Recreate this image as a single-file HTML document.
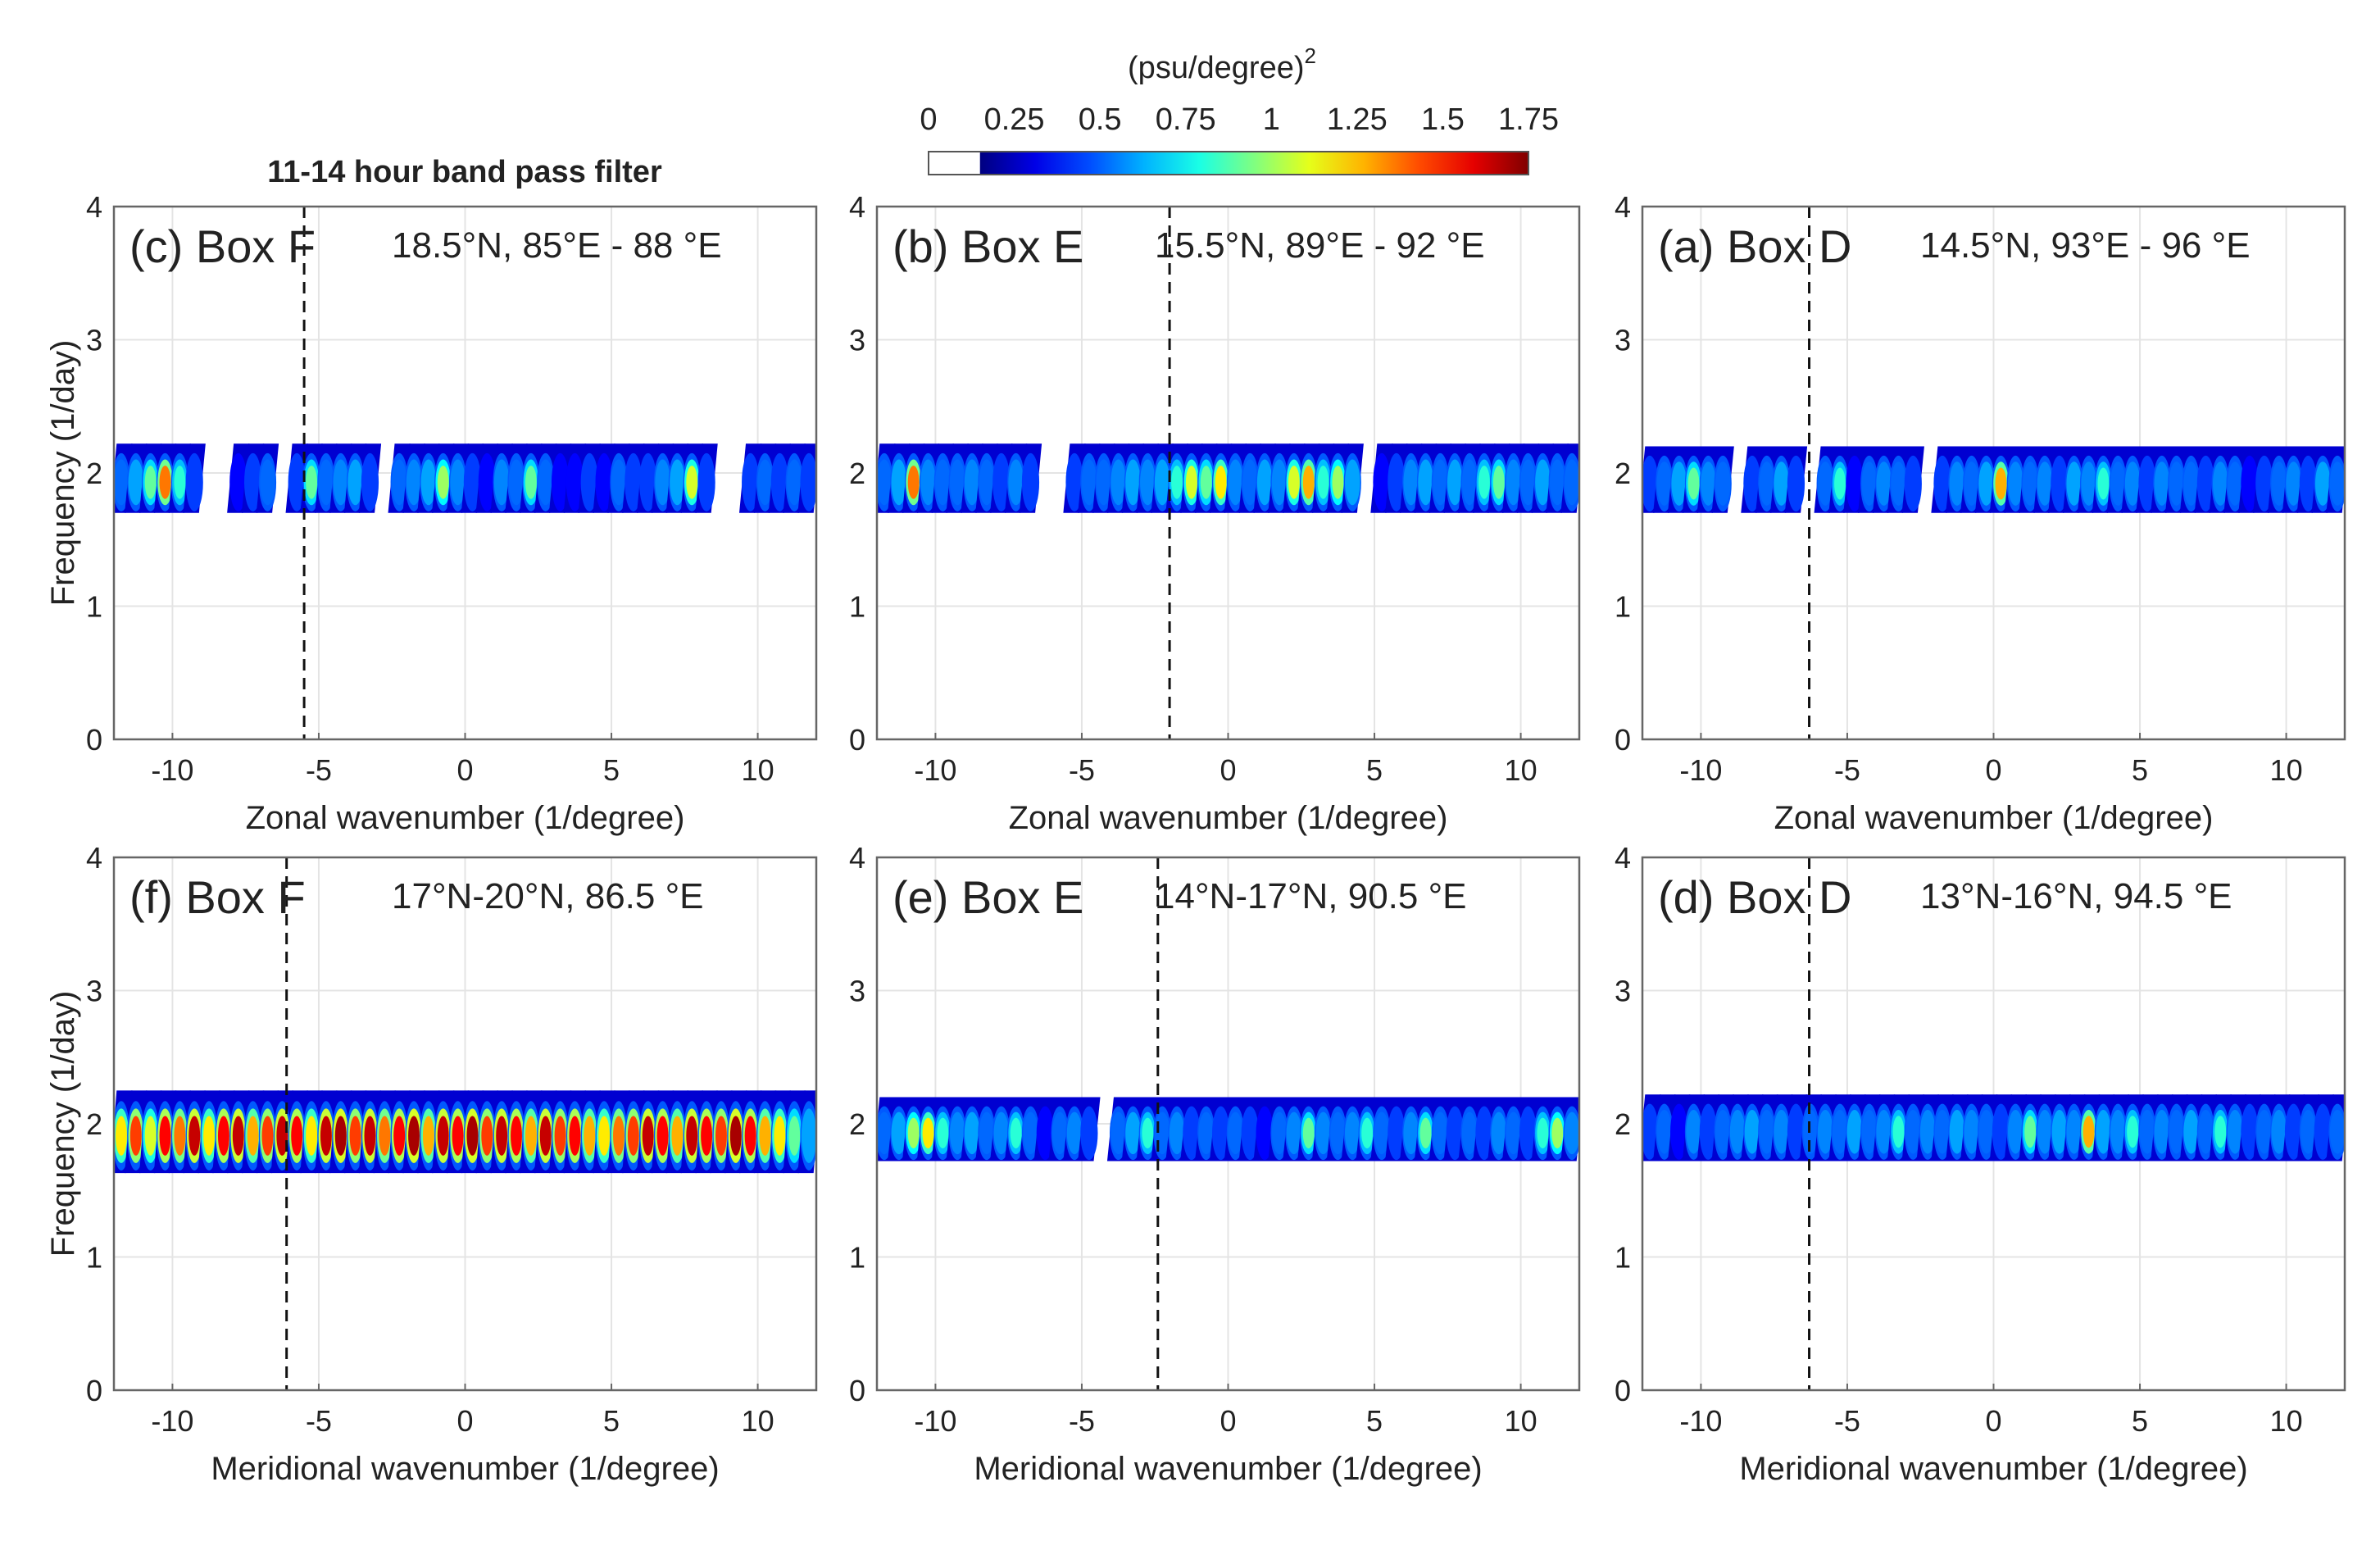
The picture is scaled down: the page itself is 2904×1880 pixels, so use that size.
<!DOCTYPE html>
<html><head><meta charset="utf-8"><style>
body{margin:0;background:#fff;}
svg text{font-family:"Liberation Sans",sans-serif;fill:#222;}
</style></head><body>
<svg id="fig" width="2904" height="1875" viewBox="0 0 2904 1875" xmlns="http://www.w3.org/2000/svg">
<text x="1491" y="95" font-size="38" text-anchor="middle">(psu/degree)<tspan dy="-18" font-size="26">2</tspan></text>
<text x="567" y="222" font-size="38" font-weight="bold" text-anchor="middle">11-14 hour band pass filter</text>
<g id="cbar"></g>
<g id="panels"></g>
</svg>
<script>
const bins = [];
for (let i = 0; i < 48; i++) bins.push(-12 + i * 0.5);
const cbTicks = ["0","0.25","0.5","0.75","1","1.25","1.5","1.75"];
const xTicks = [-10,-5,0,5,10];
const yTicks = [0,1,2,3,4];
const panelLabels = ["(c) Box F","(b) Box E","(a) Box D","(f) Box F","(e) Box E","(d) Box D"];
const panelCoords = ["18.5°N,  85°E - 88 °E","15.5°N,  89°E - 92 °E","14.5°N,  93°E - 96 °E","17°N-20°N,  86.5 °E","14°N-17°N,  90.5 °E","13°N-16°N,  94.5 °E"];
const dashedX = [-5.5,-2,-6.3,-6.1,-2.4,-6.3];
const valsC = [0.5,0.7,0.9,1.4,0.8,0.4,0,0,0.3,0.4,0.5,0,0.4,0.9,0.5,0.6,0.7,0.4,0,0.5,0.6,0.7,1.0,0.6,0.4,0.3,0.6,0.5,0.9,0.5,0.3,0.3,0.4,0.3,0.5,0.4,0.4,0.6,0.7,1.1,0.4,0,0,0.4,0.5,0.4,0.5,0.4];
const valsB = [0.5,0.7,1.4,0.6,0.5,0.5,0.6,0.5,0.4,0.6,0.4,0,0,0.4,0.5,0.5,0.6,0.7,0.6,0.7,0.8,1.1,0.9,1.2,0.6,0.5,0.7,0.6,1.1,1.3,0.8,1.0,0.7,0,0.3,0.4,0.6,0.7,0.5,0.7,0.5,0.8,0.9,0.6,0.5,0.7,0.5,0.5];
const valsA = [0.4,0.5,0.7,0.9,0.6,0.5,0,0.4,0.5,0.7,0.4,0,0.5,0.8,0.3,0.5,0.6,0.5,0.4,0,0.4,0.6,0.5,0.7,1.3,0.6,0.5,0.6,0.4,0.7,0.6,0.8,0.5,0.6,0.4,0.6,0.5,0.5,0.4,0.6,0.5,0.3,0.4,0.5,0.6,0.4,0.7,0.5];
const valsF = [1.2,1.5,1.1,1.6,1.4,1.7,1.2,1.6,1.7,1.3,1.5,1.7,1.6,1.2,1.7,1.75,1.5,1.7,1.4,1.6,1.75,1.3,1.7,1.6,1.75,1.5,1.7,1.6,1.3,1.7,1.5,1.6,1.3,1.2,1.4,1.5,1.7,1.6,1.3,1.7,1.6,1.5,1.75,1.6,1.3,1.2,0.9,0.7];
const valsE = [0.5,0.7,1.0,1.2,0.8,0.6,0.7,0.5,0.6,0.8,0.5,0.3,0.5,0.6,0.4,0,0.5,0.7,0.8,0.5,0.6,0.4,0.5,0.4,0.5,0.4,0.3,0.5,0.6,0.9,0.6,0.5,0.6,0.8,0.5,0.4,0.6,0.9,0.5,0.4,0.5,0.4,0.6,0.5,0.4,0.8,1.0,0.6];
const valsD = [0.4,0.5,0.3,0.6,0.4,0.5,0.6,0.7,0.5,0.6,0.4,0.5,0.6,0.5,0.7,0.5,0.6,0.8,0.5,0.6,0.5,0.7,0.6,0.5,0.4,0.6,0.9,0.6,0.7,0.6,1.3,0.7,0.6,0.8,0.5,0.6,0.5,0.7,0.5,0.8,0.6,0.4,0.5,0.6,0.4,0.5,0.4,0.5];
const allVals = [valsC,valsB,valsA,valsF,valsE,valsD];
const bandLo = [1.7,1.7,1.7,1.63,1.72,1.72];
const bandHi = [2.22,2.22,2.2,2.25,2.2,2.22];

const NS = "http://www.w3.org/2000/svg";
function mk(tag, attrs, parent){const e=document.createElementNS(NS,tag);for(const k in attrs)e.setAttribute(k,attrs[k]);parent.appendChild(e);return e;}
function jet(t){t=Math.max(0,Math.min(1,t));
  const r=Math.max(0,Math.min(1,1.5-Math.abs(4*t-3))),g=Math.max(0,Math.min(1,1.5-Math.abs(4*t-2))),b=Math.max(0,Math.min(1,1.5-Math.abs(4*t-1)));
  return `rgb(${Math.round(r*255)},${Math.round(g*255)},${Math.round(b*255)})`;}
function col(v){return jet((v-0.15)/(1.75-0.15)*0.92+0.04);}

const cb=document.getElementById('cbar');
const cbX0=1133,cbX1=1865,cbY=185,cbH=28;
function cbx(v){return cbX0+(cbX1-cbX0)*v/1.75;}
const defs=mk('defs',{},cb);
const lg=mk('linearGradient',{id:'jetg',x1:'0',x2:'1',y1:'0',y2:'0'},defs);
for(let i=0;i<=10;i++){mk('stop',{offset:i/10,'stop-color':jet(i/10)},lg);}
const cbw=mk('rect',{x:cbX0,y:cbY,width:cbx(0.15)-cbX0,height:cbH,fill:'#fff'},cb);

const cbg=mk('rect',{x:cbx(0.15),y:cbY,width:cbX1-cbx(0.15),height:cbH,fill:'url(#jetg)'},cb);

mk('rect',{x:cbX0,y:cbY,width:cbX1-cbX0,height:cbH,fill:'none',stroke:'#555','stroke-width':2},cb);
cbTicks.forEach(t=>{const tx=mk('text',{x:cbx(parseFloat(t)),y:158,'font-size':38,'text-anchor':'middle'},cb);tx.textContent=t;
  });

const colsX=[139,1070,2004],rowsY=[252,1046],W=857,H=650;
const P=document.getElementById('panels');
for(let p=0;p<6;p++){
  const L=colsX[p%3],T=rowsY[Math.floor(p/3)];
  const sx=v=>L+(v+12)/24*W, sy=f=>T+H-f/4*H;
  const g=mk('g',{},P);
  
  
  mk('rect',{x:L,y:T,width:W,height:H,fill:'#fff'},g);
  xTicks.forEach(v=>mk('line',{x1:sx(v),x2:sx(v),y1:T,y2:T+H,stroke:'#e4e4e4','stroke-width':2},g));
  yTicks.forEach(v=>mk('line',{x1:L,x2:L+W,y1:sy(v),y2:sy(v),stroke:'#e4e4e4','stroke-width':2},g));
  const clip=mk('clipPath',{id:'cp'+p},g);mk('rect',{x:L,y:T,width:W,height:H},clip);
  const hm=mk('g',{'clip-path':`url(#cp${p})`},g);
  
  const vals=allVals[p];
  bins.forEach((b,i)=>{const v=vals[i];if(!v)return;
    const x0=sx(b-0.02),x1=sx(b+0.52),y0=sy(bandHi[p]),y1=sy(bandLo[p]),sk=4;
    const o=mk('path',{d:`M${x0+sk},${y0} L${x1+sk},${y0} L${x1-sk},${y1} L${x0-sk},${y1} Z`,fill:col(0.22)},hm);
    
    const cy=sy((bandLo[p]+bandHi[p])/2-0.03);
    const m=mk('ellipse',{cx:sx(b+0.25),cy:cy,rx:(x1-x0)*0.55,ry:(y1-y0)*0.42,fill:col(Math.min(v,0.45))},hm);
    
    if(v>0.45){const c=mk('ellipse',{cx:sx(b+0.25),cy:cy,rx:(x1-x0)*0.48,ry:(y1-y0)*0.33,fill:col((v+0.45)/2)},hm);
      }
    if(v>0.7){const c2=mk('ellipse',{cx:sx(b+0.25),cy:cy,rx:(x1-x0)*0.36,ry:(y1-y0)*0.24,fill:col(v)},hm);
      }
  });
  const dl=mk('line',{x1:sx(dashedX[p]),x2:sx(dashedX[p]),y1:T,y2:T+H,stroke:'#111','stroke-width':3,'stroke-dasharray':'14,9'},g);
  
  mk('rect',{x:L,y:T,width:W,height:H,fill:'none',stroke:'#666','stroke-width':2.5},g);
  xTicks.forEach(v=>{mk('line',{x1:sx(v),x2:sx(v),y1:T+H,y2:T+H-8,stroke:'#666','stroke-width':2},g);
    const t=mk('text',{x:sx(v),y:T+H+50,'font-size':36,'text-anchor':'middle'},g);t.textContent=String(v);
    });
  yTicks.forEach(v=>{const t=mk('text',{x:L-14,y:sy(v)+13,'font-size':36,'text-anchor':'end'},g);t.textContent=String(v);
    });
  const lb=mk('text',{x:L+19,y:T+68,'font-size':56},g);lb.textContent=panelLabels[p];
  
  const cd=mk('text',{x:L+339,y:T+62,'font-size':44},g);cd.textContent=panelCoords[p];
  
  const xl=mk('text',{x:L+W/2,y:T+H+109,'font-size':40,'text-anchor':'middle'},g);
  xl.textContent=p<3?'Zonal wavenumber (1/degree)':'Meridional wavenumber (1/degree)';
  
  if(p%3===0){const yl=mk('text',{x:0,y:0,'font-size':40,'text-anchor':'middle',transform:`translate(90,${T+H/2}) rotate(-90)`},g);
    yl.textContent='Frequency (1/day)';
    }
}
</script>
</body></html>
